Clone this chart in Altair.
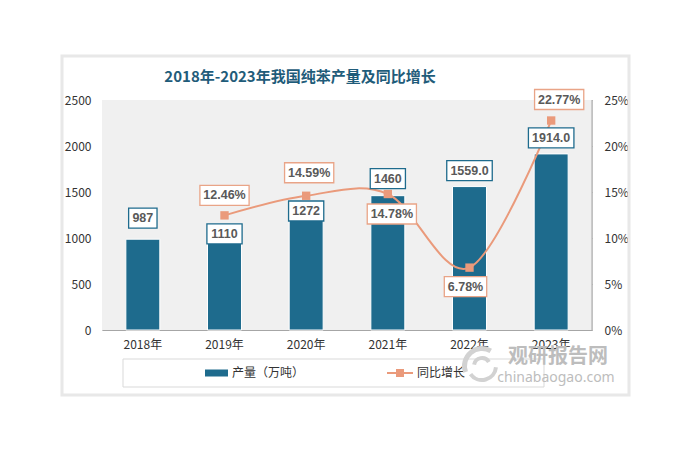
import altair as alt
import pandas as pd
import math

# ---------------- data ----------------
years = ["2018年", "2019年", "2020年", "2021年", "2022年", "2023年"]
output = [987, 1110, 1272, 1460, 1559, 1914]
output_text = ["987", "1110", "1272", "1460", "1559.0", "1914.0"]
growth = [None, 12.46, 14.59, 14.78, 6.78, 22.77]
growth_text = ["", "12.46%", "14.59%", "14.78%", "6.78%", "22.77%"]
series_names = ["产量（万吨）", "同比增长"]
title_text = "2018年-2023年我国纯苯产量及同比增长"
left_ticks = [0, 500, 1000, 1500, 2000, 2500]
right_ticks = [0, 5, 10, 15, 20, 25]

# ---------------- layout / style ----------------
W, H = 490, 230
LMAX, RMAX = 2500, 25
BAR = "#1e6b8d"
ORANGE = "#ea9a7b"
ORANGE_BORDER = "#e9a487"
LABEL_TXT = "#595959"
AXIS_TXT = "#333333"
FONT = "Noto Sans CJK SC"
NUM_FONT = "Liberation Sans"
WM = "#bdbdbd"

# label nudges in pixels (negative = up)
bar_label_dy = [-21, 6, -2, -17, -16, -16]
growth_label_dx = [0, 0, 3, 4, -4, 8]
growth_label_dy = [0, -20, -23, 20, 19, -21]


def box_path(text):
    w = sum(6.8 if c.isdigit() else 3.5 if c == "." else 10.5 for c in text) + 8
    hw = w / 20.0
    return f"M{-hw:.3f},-1H{hw:.3f}V1H{-hw:.3f}Z"


df = pd.DataFrame({
    "year": years,
    "output": output,
    "output_text": output_text,
    "growth": growth,
    "growth_text": growth_text,
})
df["bar_dy"] = bar_label_dy
df["g_dx"] = growth_label_dx
df["g_dy"] = growth_label_dy
df["bar_box"] = [box_path(t) for t in output_text]
df["g_box"] = [box_path(t) if t else "M0,0Z" for t in growth_text]

gdf = df[df["growth"].notna()].copy()

x_enc = alt.X(
    "year:N", sort=years,
    scale=alt.Scale(paddingInner=0.584, paddingOuter=0.292),
    axis=alt.Axis(title=None, labelAngle=0, ticks=False, domainColor="#a6a6a6",
                  labelFont=FONT, labelFontSize=12, labelColor=AXIS_TXT,
                  labelPadding=9),
)
y_left = alt.Scale(domain=[0, LMAX])
y_right = alt.Scale(domain=[0, RMAX])

one = pd.DataFrame({"k": [0]})

card = alt.Chart(one).mark_rect(fill=None, stroke="#e8e8e8", strokeWidth=3).encode(
    x=alt.value(-40), x2=alt.value(527), y=alt.value(-44), y2=alt.value(295))

bg = alt.Chart(one).mark_rect(fill="#f0f0f0").encode(
    x=alt.value(0), x2=alt.value(W), y=alt.value(0), y2=alt.value(H))

bars = alt.Chart(df).mark_bar(color=BAR, stroke="white", strokeWidth=1).encode(
    x=x_enc,
    y=alt.Y("output:Q", scale=y_left,
            axis=alt.Axis(title=None, orient="left", values=left_ticks, grid=False,
                          format="d", ticks=False, domain=False, labelPadding=11,
                          labelFont=FONT, labelFontSize=12, labelColor=AXIS_TXT)),
)

line = alt.Chart(gdf).mark_line(color=ORANGE, strokeWidth=2, interpolate="cardinal").encode(
    x=x_enc,
    y=alt.Y("growth:Q", scale=y_right,
            axis=alt.Axis(title=None, orient="right", values=right_ticks, grid=False,
                          labelExpr="datum.value + '%'", offset=-4, tickSize=4,
                          tickColor="#a6a6a6", domain=False, labelPadding=12,
                          labelFont=FONT, labelFontSize=12, labelColor=AXIS_TXT)),
)

pts = alt.Chart(gdf).mark_point(shape="square", filled=True, size=70, color=ORANGE, opacity=1).encode(
    x=x_enc, y=alt.Y("growth:Q", scale=y_right, axis=None))

bar_lab = alt.Chart(df).transform_calculate(
    ly=f"datum.output - datum.bar_dy * {LMAX} / {H}")
bar_boxes = bar_lab.mark_point(filled=True, fill="white", stroke=BAR, strokeWidth=1.3,
                               size=400, opacity=1).encode(
    x=x_enc, y=alt.Y("ly:Q", scale=y_left, axis=None),
    shape=alt.Shape("bar_box:N", scale=None, legend=None),
)
bar_text = bar_lab.mark_text(font=NUM_FONT, fontSize=12.5, fontWeight="bold",
                             color=LABEL_TXT, baseline="middle").encode(
    x=x_enc, y=alt.Y("ly:Q", scale=y_left, axis=None),
    text="output_text:N",
)

g_lab = alt.Chart(gdf).transform_calculate(
    ly=f"datum.growth - datum.g_dy * {RMAX} / {H}")
g_boxes = g_lab.mark_point(filled=True, fill="white", stroke=ORANGE_BORDER, strokeWidth=1.3,
                           size=400, opacity=1, xOffset=alt.expr("datum.g_dx")).encode(
    x=x_enc, y=alt.Y("ly:Q", scale=y_right, axis=None),
    shape=alt.Shape("g_box:N", scale=None, legend=None),
)
g_text = g_lab.mark_text(font=NUM_FONT, fontSize=12.5, fontWeight="bold",
                         color=LABEL_TXT, baseline="middle", dx=alt.expr("datum.g_dx")).encode(
    x=x_enc, y=alt.Y("ly:Q", scale=y_right, axis=None),
    text="growth_text:N",
)

right_domain = alt.Chart(one).mark_rule(color="#a6a6a6").encode(
    x=alt.value(W), y=alt.value(0), y2=alt.value(H))

title = alt.Chart(one).mark_text(text=title_text, font=FONT, fontSize=15, fontWeight="bold",
                                 color="#1f5c7a", align="center", baseline="middle").encode(
    x=alt.value(198), y=alt.value(-23))

# legend
leg_box = alt.Chart(one).mark_rect(fill="white", stroke="#d9d9d9", strokeWidth=1).encode(
    x=alt.value(21), x2=alt.value(442), y=alt.value(259), y2=alt.value(287))
leg_bar = alt.Chart(one).mark_rect(color=BAR).encode(
    x=alt.value(103), x2=alt.value(126), y=alt.value(269.5), y2=alt.value(276.5))
leg_bar_txt = alt.Chart(one).mark_text(text=series_names[0], font=FONT, fontSize=12,
                                       color=AXIS_TXT, align="left", baseline="middle").encode(
    x=alt.value(130), y=alt.value(273))
leg_line = alt.Chart(one).mark_rule(color=ORANGE, strokeWidth=2).encode(
    x=alt.value(285), x2=alt.value(311), y=alt.value(273))
leg_pt = alt.Chart(one).mark_point(shape="square", filled=True, size=64, color=ORANGE, opacity=1).encode(
    x=alt.value(298), y=alt.value(273))
leg_line_txt = alt.Chart(one).mark_text(text=series_names[1], font=FONT, fontSize=12,
                                        color=AXIS_TXT, align="left", baseline="middle").encode(
    x=alt.value(315), y=alt.value(273))

# watermark (logo swirl + text)
d2r = math.pi / 180
logo1 = alt.Chart(one).mark_arc(color="#d2d2d2", theta=250 * d2r, theta2=390 * d2r,
                                radius=20, radius2=15).encode(x=alt.value(380), y=alt.value(266))
logo2 = alt.Chart(one).mark_arc(color="#d2d2d2", theta=95 * d2r, theta2=235 * d2r,
                                radius=16, radius2=12).encode(x=alt.value(380), y=alt.value(266))
logo3 = alt.Chart(one).mark_arc(color="#d2d2d2", theta=280 * d2r, theta2=420 * d2r,
                                radius=10, radius2=6).encode(x=alt.value(380), y=alt.value(266))
wm1 = alt.Chart(one).mark_text(text="观研报告网", font=FONT, fontSize=20, fontWeight="bold",
                               color=WM, align="center", baseline="middle").encode(
    x=alt.value(456), y=alt.value(257))
wm2 = alt.Chart(one).mark_text(text="chinabaogao.com", font="Noto Sans", fontSize=14,
                               color=WM, align="center", baseline="middle").encode(
    x=alt.value(454), y=alt.value(278))

chart = alt.layer(
    card, bg, bars, line, pts, bar_boxes, bar_text, g_boxes, g_text, right_domain,
    title, leg_box, leg_bar, leg_bar_txt, leg_line, leg_pt, leg_line_txt,
    logo1, logo2, logo3, wm1, wm2,
).resolve_scale(y="independent").properties(
    width=W, height=H,
    autosize=alt.AutoSizeParams(type="none"),
    padding={"left": 94, "top": 92, "right": 81, "bottom": 111},
).configure_view(stroke=None).configure(background="white")

chart.save("out.html", embed_options={"renderer": "svg", "actions": False})
